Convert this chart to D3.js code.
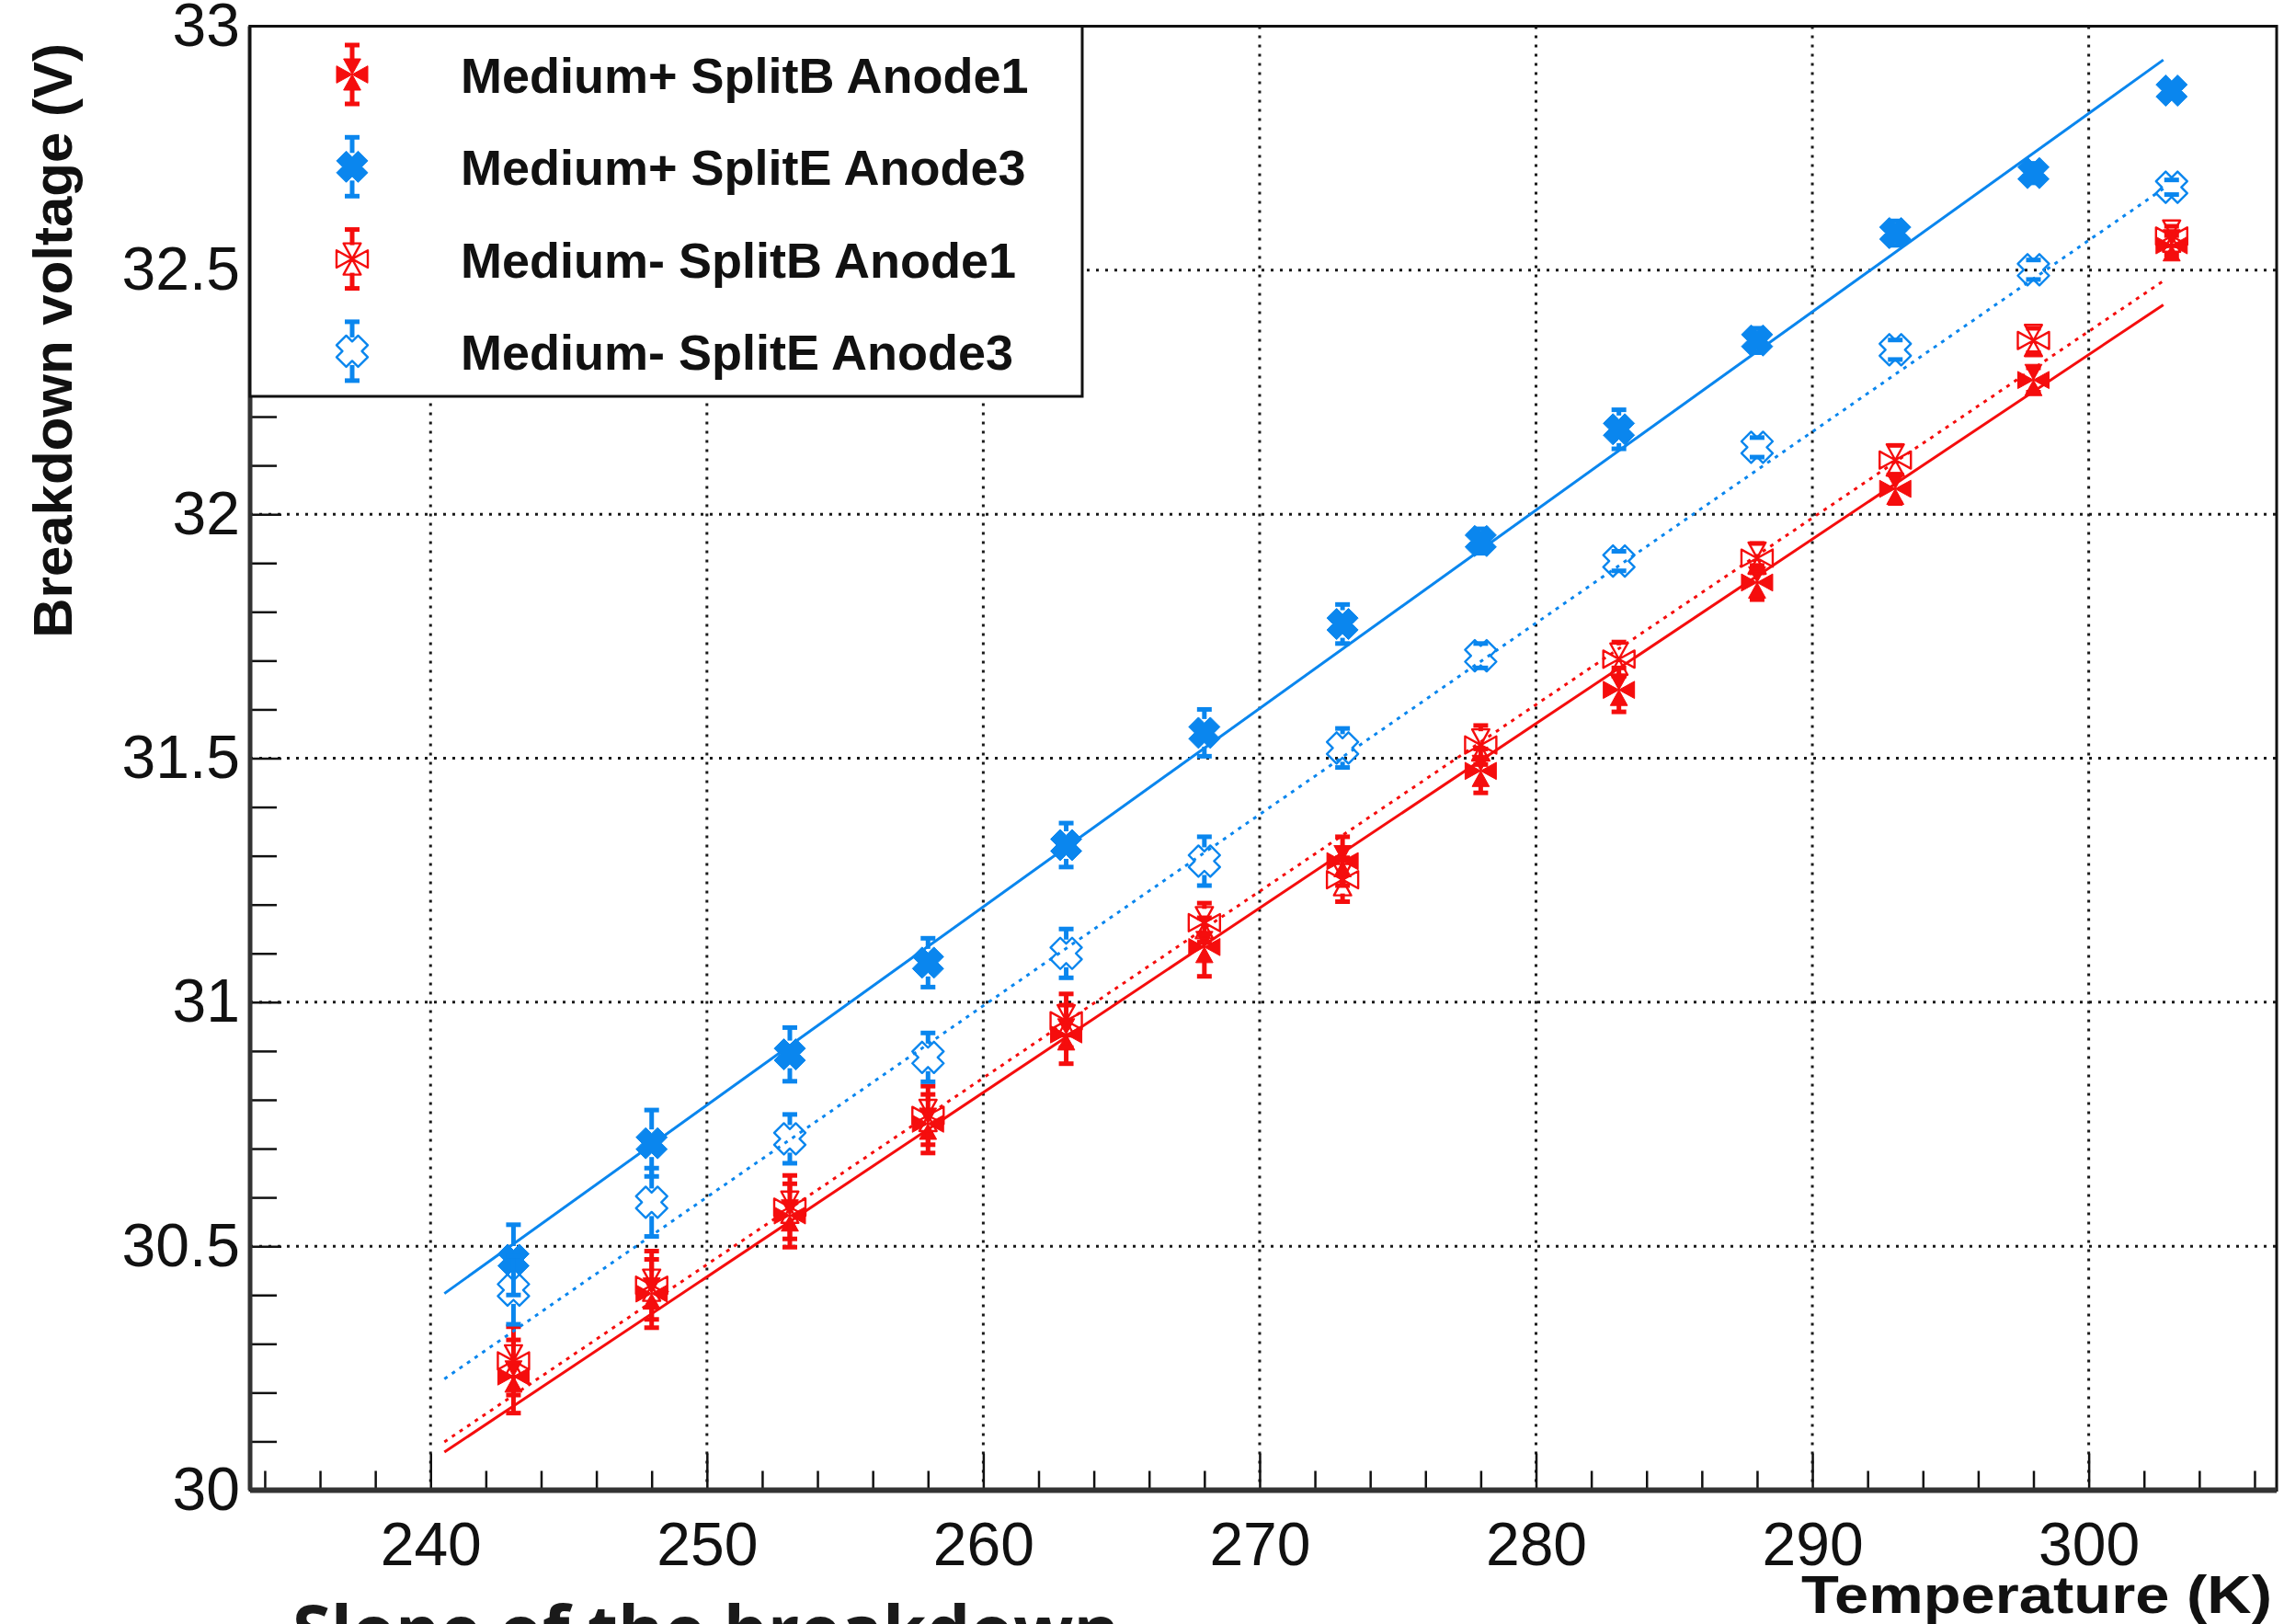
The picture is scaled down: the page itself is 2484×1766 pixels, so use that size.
<!DOCTYPE html>
<html>
<head>
<meta charset="utf-8">
<script src="https://cdn.jsdelivr.net/npm/d3@7"></script>
<style>
  html, body { margin: 0; padding: 0; background: #ffffff; }
  svg { display: block; }
</style>
</head>
<body>
<svg id="chart" width="2484" height="1766"></svg>
<script>
// ---- data ----
const temperatures = [243, 248, 253, 258, 263, 268, 273, 278, 283, 288, 293, 298, 303];

const seriesNames = [
  "Medium+ SplitB Anode1",
  "Medium+ SplitE Anode3",
  "Medium- SplitB Anode1",
  "Medium- SplitE Anode3"
];

const plusSplitB  = [30.233, 30.403, 30.563, 30.751, 30.934, 31.113, 31.289, 31.474, 31.640, 31.860, 32.052, 32.275, 32.551];
const plusSplitE  = [30.472, 30.711, 30.893, 31.081, 31.322, 31.552, 31.775, 31.945, 32.174, 32.356, 32.576, 32.699, 32.868];
const minusSplitB = [30.265, 30.420, 30.580, 30.768, 30.962, 31.163, 31.251, 31.527, 31.703, 31.910, 32.111, 32.356, 32.570];
const minusSplitE = [30.410, 30.590, 30.720, 30.887, 31.100, 31.289, 31.521, 31.710, 31.904, 32.137, 32.337, 32.501, 32.670];

const plusSplitBErr  = [0.075, 0.070, 0.065, 0.060, 0.060, 0.060, 0.050, 0.045, 0.045, 0.035, 0.030, 0.025, 0.020];
const plusSplitEErr  = [0.072, 0.068, 0.055, 0.050, 0.045, 0.048, 0.040, 0.025, 0.040, 0.025, 0.025, 0.020, 0.015];
const minusSplitBErr = [0.070, 0.070, 0.065, 0.060, 0.055, 0.040, 0.045, 0.040, 0.035, 0.030, 0.030, 0.025, 0.020];
const minusSplitEErr = [0.070, 0.070, 0.050, 0.050, 0.050, 0.050, 0.040, 0.025, 0.020, 0.020, 0.020, 0.020, 0.015];

// linear fits: value at the start and end of the fitted temperature range
const fitRange = [240.5, 302.7];
const fitStart = [30.078, 30.403, 30.099, 30.228];
const fitEnd   = [32.429, 32.931, 32.478, 32.667];

const xMajorTicks = [240, 250, 260, 270, 280, 290, 300];
const xTickLabels = ["240", "250", "260", "270", "280", "290", "300"];
const yMajorTicks = [30, 30.5, 31, 31.5, 32, 32.5, 33];
const yTickLabels = ["30", "30.5", "31", "31.5", "32", "32.5", "33"];

const xTitle = "Temperature (K)";
const yTitle = "Breakdown voltage (V)";
const captionText = "Slope of the breakdown";

// ---- layout ----
const frame = { left: 272, right: 2476, top: 28.5, bottom: 1620.5 };
const RED = "#f50d0d";
const BLUE = "#0a86ee";

const svg = d3.select("#chart");
const x = d3.scaleLinear().domain([233.47, 306.8]).range([frame.left, frame.right]);
const y = d3.scaleLinear().domain([30, 33]).range([frame.bottom, frame.top]);

const xMinorTicks = d3.range(234, 307, 2).filter(t => t % 10 !== 0);
const yMinorTicks = d3.range(30.1, 33, 0.1).map(v => +v.toFixed(1)).filter(v => Math.abs(v * 2 - Math.round(v * 2)) > 1e-6);

const FONT = "'Liberation Sans', Arial, Helvetica, sans-serif";

// ---- grid ----
const grid = svg.append("g").attr("class", "grid")
  .attr("stroke", "#1a1a1a").attr("stroke-width", 3).attr("stroke-dasharray", "3 7");
grid.selectAll("line.gx").data(xMajorTicks).join("line")
  .attr("class", "gx")
  .attr("x1", d => x(d)).attr("x2", d => x(d))
  .attr("y1", frame.top).attr("y2", frame.bottom);
grid.selectAll("line.gy").data(yMajorTicks.filter(v => v > 30 && v < 33)).join("line")
  .attr("class", "gy")
  .attr("x1", frame.left).attr("x2", frame.right)
  .attr("y1", d => y(d)).attr("y2", d => y(d));

// ---- axes ----
const xAxisMajor = d3.axisBottom(x).tickValues(xMajorTicks).tickSize(-40).tickPadding(35)
  .tickFormat((d, i) => xTickLabels[i]);
const xAxisMinor = d3.axisBottom(x).tickValues(xMinorTicks).tickSize(-21).tickFormat("");
const yAxisMajor = d3.axisLeft(y).tickValues(yMajorTicks).tickSize(-34).tickPadding(11)
  .tickFormat((d, i) => yTickLabels[i]);
const yAxisMinor = d3.axisLeft(y).tickValues(yMinorTicks).tickSize(-29).tickFormat("");

function styleAxis(g) {
  g.select(".domain").remove();
  g.selectAll(".tick line").attr("stroke", "#111").attr("stroke-width", 2.5);
  g.selectAll(".tick text").attr("fill", "#111").attr("font-family", FONT).attr("font-size", 66);
}
svg.append("g").attr("transform", `translate(0,${frame.bottom})`).call(xAxisMinor).call(styleAxis);
svg.append("g").attr("transform", `translate(0,${frame.bottom})`).call(xAxisMajor).call(styleAxis);
svg.append("g").attr("transform", `translate(${frame.left},0)`).call(yAxisMinor).call(styleAxis);
svg.append("g").attr("transform", `translate(${frame.left},0)`).call(yAxisMajor).call(styleAxis);

// ---- frame ----
svg.append("rect")
  .attr("x", frame.left).attr("y", frame.top)
  .attr("width", frame.right - frame.left).attr("height", frame.bottom - frame.top)
  .attr("fill", "none").attr("stroke", "#111").attr("stroke-width", 3);
svg.append("line").attr("x1", frame.left).attr("x2", frame.right)
  .attr("y1", frame.bottom).attr("y2", frame.bottom)
  .attr("stroke", "#333").attr("stroke-width", 6);
svg.append("line").attr("x1", frame.left).attr("x2", frame.left)
  .attr("y1", frame.top).attr("y2", frame.bottom)
  .attr("stroke", "#333").attr("stroke-width", 5);

// ---- marker shapes ----
function crossXPath(r) {
  const L = r * Math.SQRT2 / 1.45, a = 0.45 * L;
  const pts = [];
  for (let k = 0; k < 4; k++) {
    const th = Math.PI / 4 + k * Math.PI / 2;
    const d = [Math.cos(th), Math.sin(th)], p = [-Math.sin(th), Math.cos(th)];
    pts.push([L * d[0] - a * p[0], L * d[1] - a * p[1]]);
    pts.push([L * d[0] + a * p[0], L * d[1] + a * p[1]]);
    const b = th + Math.PI / 4;
    pts.push([a * Math.SQRT2 * Math.cos(b), a * Math.SQRT2 * Math.sin(b)]);
  }
  return "M" + pts.map(q => q[0].toFixed(2) + "," + q[1].toFixed(2)).join("L") + "Z";
}
function fourTrianglesPath(r) {
  const w = 0.55 * r;
  return `M0,0L${w},${-r}L${-w},${-r}Z` +
         `M0,0L${r},${-w}L${r},${w}Z` +
         `M0,0L${-w},${r}L${w},${r}Z` +
         `M0,0L${-r},${w}L${-r},${-w}Z`;
}

const MR = 17;        // marker half extent
const GAP = 15;       // error bar gap around the marker
const CAP = 8;        // half width of error bar caps

const series = [
  { name: seriesNames[0], values: plusSplitB,  errors: plusSplitBErr,  color: RED,  shape: fourTrianglesPath(MR), filled: true,  dash: null },
  { name: seriesNames[1], values: plusSplitE,  errors: plusSplitEErr,  color: BLUE, shape: crossXPath(MR),        filled: true,  dash: null },
  { name: seriesNames[2], values: minusSplitB, errors: minusSplitBErr, color: RED,  shape: fourTrianglesPath(MR), filled: false, dash: "4 6" },
  { name: seriesNames[3], values: minusSplitE, errors: minusSplitEErr, color: BLUE, shape: crossXPath(MR),        filled: false, dash: "4 6" }
];
series.forEach((s, i) => { s.fit = [[fitRange[0], fitStart[i]], [fitRange[1], fitEnd[i]]]; });

function drawErrorBar(g, cx, cy, yTop, yBot, color) {
  if (cy - GAP > yTop) g.append("line").attr("x1", cx).attr("x2", cx).attr("y1", yTop).attr("y2", cy - GAP)
    .attr("stroke", color).attr("stroke-width", 5);
  if (cy + GAP < yBot) g.append("line").attr("x1", cx).attr("x2", cx).attr("y1", cy + GAP).attr("y2", yBot)
    .attr("stroke", color).attr("stroke-width", 5);
  [yTop, yBot].forEach(yy => g.append("line")
    .attr("x1", cx - CAP).attr("x2", cx + CAP).attr("y1", yy).attr("y2", yy)
    .attr("stroke", color).attr("stroke-width", 5));
}

function drawMarker(g, cx, cy, s) {
  g.append("path").attr("d", s.shape).attr("transform", `translate(${cx},${cy})`)
    .attr("fill", s.filled ? s.color : "none")
    .attr("stroke", s.color).attr("stroke-width", s.filled ? 1 : 2.4)
    .attr("stroke-linejoin", "round");
}

const line = d3.line().x(d => x(d[0])).y(d => y(d[1]));
const plot = svg.append("g").attr("class", "data");

series.forEach(s => {
  const g = plot.append("g");
  g.append("path").datum(s.fit).attr("d", line)
    .attr("fill", "none").attr("stroke", s.color).attr("stroke-width", 3)
    .attr("stroke-dasharray", s.dash);
  temperatures.forEach((t, i) => {
    const cx = x(t), cy = y(s.values[i]);
    drawErrorBar(g, cx, cy, y(s.values[i] + s.errors[i]), y(s.values[i] - s.errors[i]), s.color);
    drawMarker(g, cx, cy, s);
  });
});

// ---- legend ----
const legend = svg.append("g").attr("class", "legend");
legend.append("rect")
  .attr("x", frame.left).attr("y", frame.top).attr("width", 905).attr("height", 402.5)
  .attr("fill", "#ffffff").attr("stroke", "#111").attr("stroke-width", 3);
series.forEach((s, i) => {
  const cy = 81 + i * 100.3, cx = 383;
  drawErrorBar(legend, cx, cy, cy - 32, cy + 32, s.color);
  drawMarker(legend, cx, cy, s);
  legend.append("text").attr("x", 501).attr("y", cy + 20)
    .attr("font-family", FONT).attr("font-weight", "bold").attr("font-size", 54)
    .attr("fill", "#111").text(s.name);
});

// ---- axis titles ----
svg.append("text")
  .attr("x", 2471).attr("y", 1754).attr("text-anchor", "end")
  .attr("font-family", FONT).attr("font-weight", "bold").attr("font-size", 57)
  .attr("textLength", 512).attr("lengthAdjust", "spacingAndGlyphs")
  .attr("fill", "#111").text(xTitle);
svg.append("text")
  .attr("transform", "translate(78,47) rotate(-90)").attr("text-anchor", "end")
  .attr("font-family", FONT).attr("font-weight", "bold").attr("font-size", 60)
  .attr("fill", "#111").text(yTitle);

// ---- caption below the figure (runs past the bottom edge) ----
svg.append("text")
  .attr("x", 318).attr("y", 1800)
  .attr("font-family", "'Open Sans', 'Noto Sans', sans-serif").attr("font-weight", "bold").attr("font-size", 76)
  .attr("fill", "#1a1a1a").text(captionText);
</script>
</body>
</html>
